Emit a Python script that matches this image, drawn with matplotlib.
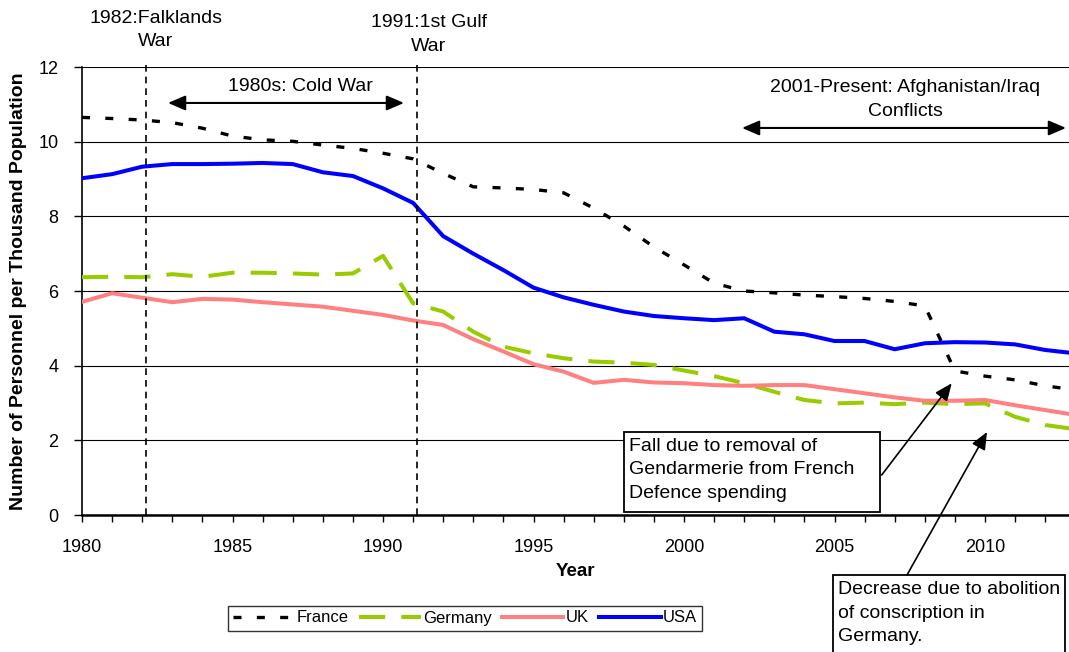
import matplotlib
matplotlib.use("Agg")
import matplotlib.pyplot as plt
from matplotlib.patches import Rectangle
import numpy as np

plt.rcParams['font.family'] = ['Liberation Sans', 'DejaVu Sans']

years = list(range(1980, 2014))
france = [10.65, 10.62, 10.58, 10.51, 10.36, 10.15, 10.05, 10.01, 9.91, 9.82,
          9.69, 9.54, 9.15, 8.79, 8.76, 8.72, 8.63, 8.22, 7.74, 7.18,
          6.70, 6.21, 6.00, 5.95, 5.89, 5.85, 5.80, 5.72, 5.60, 3.86,
          3.72, 3.62, 3.46, 3.35]
germany = [6.37, 6.38, 6.37, 6.45, 6.38, 6.49, 6.49, 6.47, 6.44, 6.47,
           6.94, 5.67, 5.45, 4.91, 4.51, 4.33, 4.20, 4.11, 4.08, 4.02,
           3.87, 3.72, 3.53, 3.30, 3.08, 2.99, 3.01, 2.97, 3.01, 2.97,
           2.99, 2.63, 2.41, 2.30]
uk = [5.71, 5.94, 5.82, 5.70, 5.79, 5.77, 5.70, 5.64, 5.58, 5.47,
      5.36, 5.21, 5.09, 4.71, 4.38, 4.04, 3.84, 3.54, 3.62, 3.55,
      3.53, 3.48, 3.46, 3.48, 3.48, 3.37, 3.26, 3.15, 3.06, 3.06,
      3.08, 2.94, 2.81, 2.68]
usa = [9.02, 9.13, 9.33, 9.40, 9.40, 9.41, 9.43, 9.40, 9.18, 9.08,
       8.75, 8.36, 7.47, 7.00, 6.56, 6.09, 5.83, 5.63, 5.45, 5.33,
       5.27, 5.22, 5.27, 4.91, 4.84, 4.66, 4.66, 4.44, 4.60, 4.63,
       4.62, 4.57, 4.42, 4.33]
series_names = ["France", "Germany", "UK", "USA"]
event_years = [1982.13, 1991.13]
event_labels = ["1982:Falklands\nWar", "1991:1st Gulf\nWar"]

W, H = 1069, 652
fig = plt.figure(figsize=(W / 100, H / 100), dpi=100)
ax = fig.add_axes([82 / W, 1 - 515 / H, (W - 82) / W, (515 - 67) / H])

ax.set_xlim(1980, 1980 + (W - 82) / 30.1)
ax.set_ylim(0, 12)

# gridlines
ax.set_yticks(np.arange(0, 13, 2))
ax.yaxis.grid(True, color='black', lw=0.8)
ax.set_axisbelow(True)

l1, = ax.plot(years, france, color='black', lw=2.4, label=series_names[0], zorder=3)
l1.set_dashes([2.4, 4.6])
l2, = ax.plot(years, germany, color='#99CC00', lw=2.9, label=series_names[1], zorder=3)
l2.set_dashes([6.5, 4.0])
l3, = ax.plot(years, uk, color='#FF8080', lw=2.9, label=series_names[2], zorder=3)
l4, = ax.plot(years, usa, color='#0000FF', lw=2.9, label=series_names[3], zorder=4)

# event lines
for ey in event_years:
    ax.plot([ey, ey], [0, 12.1], color='black', lw=1.2, linestyle=(0, (4, 3)),
            clip_on=False, zorder=5)

# spines
for s in ['top', 'right']:
    ax.spines[s].set_visible(False)
ax.spines['left'].set_linewidth(1.2)
ax.spines['bottom'].set_linewidth(1.8)

ax.set_xticks(years[:33])
ax.set_xticklabels([str(y) if y % 5 == 0 else '' for y in years[:33]])
ax.tick_params(axis='x', direction='out', length=5, width=1, pad=12, labelsize=13)
ax.tick_params(axis='y', direction='out', length=6, width=1, pad=11, labelsize=13)

ax.set_ylabel("Number of Personnel per Thousand Population", fontsize=14,
              fontweight='bold')
ax.yaxis.set_label_coords(-0.0557, 0.5)
ax.set_xlabel("Year", fontsize=13.5, fontweight='bold')
ax.xaxis.set_label_coords(0.5, -0.107)

def px2d(px, py):
    return 1980 + (px - 82) / 30.1, (515 - py) / 37.33

fs = 14
LS = 1.5
# event labels
x, y = px2d(156, 30)
ax.text(x, y, event_labels[0], ha='center', va='center', fontsize=fs,
        linespacing=LS, clip_on=False)
x, y = px2d(429, 34.5)
ax.text(x, y, event_labels[1], ha='center', va='center', fontsize=fs,
        linespacing=LS, clip_on=False)

# Cold war
x, y = px2d(300, 87)
ax.text(x, y, "1980s: Cold War", ha='center', va='center', fontsize=fs)
xa, ya = px2d(168, 103)
xb, _ = px2d(404, 103)
ax.annotate("", xy=(xb, ya), xytext=(xa, ya),
            arrowprops=dict(arrowstyle='<|-|>,head_length=0.7,head_width=0.3',
                            mutation_scale=15, lw=1.5, color='black',
                            shrinkA=0, shrinkB=0))

# Afghanistan
x, y = px2d(905, 99.5)
ax.text(x, y, "2001-Present: Afghanistan/Iraq\nConflicts", ha='center', va='center',
        fontsize=fs, linespacing=LS)
xa, ya = px2d(742, 128)
xb, _ = px2d(1066, 128)
ax.annotate("", xy=(xb, ya), xytext=(xa, ya),
            arrowprops=dict(arrowstyle='<|-|>,head_length=0.7,head_width=0.3',
                            mutation_scale=15, lw=1.5, color='black',
                            shrinkA=0, shrinkB=0), annotation_clip=False)

# Box 1
x0, y1 = px2d(624, 432)
x1, y0 = px2d(880, 512)
ax.add_patch(Rectangle((x0, y0), x1 - x0, y1 - y0, fc='white', ec='black',
                       lw=1.3, zorder=6, clip_on=False))
tx, ty = px2d(629, 470)
ax.text(tx, ty, "Fall due to removal of\nGendarmerie from French\nDefence spending",
        ha='left', va='center', fontsize=fs, linespacing=LS, zorder=7)
xs, ys = px2d(881.7, 475)
xe, ye = px2d(951.7, 383.3)
ax.annotate("", xy=(xe, ye), xytext=(xs, ys),
            arrowprops=dict(arrowstyle='-|>,head_length=0.7,head_width=0.3',
                            mutation_scale=15, lw=1.2, color='black',
                            shrinkA=0, shrinkB=0), zorder=7)

# Box 2
x0, y1 = px2d(833, 575)
x1, y0 = px2d(1065, 660)
ax.add_patch(Rectangle((x0, y0), x1 - x0, y1 - y0, fc='white', ec='black',
                       lw=1.3, zorder=6, clip_on=False))
tx, ty = px2d(838, 613)
ax.text(tx, ty, "Decrease due to abolition\nof conscription in\nGermany.",
        ha='left', va='center', fontsize=fs, linespacing=LS, zorder=7, clip_on=False)
xs, ys = px2d(907, 575)
xe, ye = px2d(987, 432)
ax.annotate("", xy=(xe, ye), xytext=(xs, ys),
            arrowprops=dict(arrowstyle='-|>,head_length=0.7,head_width=0.3',
                            mutation_scale=15, lw=1.2, color='black',
                            shrinkA=0, shrinkB=0), zorder=7, annotation_clip=False)

leg = fig.legend(handles=[l1, l2, l3, l4], loc='center',
                 bbox_to_anchor=(465 / W, 1 - 618 / H), ncol=4, fontsize=12,
                 frameon=True, fancybox=False, edgecolor='black',
                 handlelength=3.7, handletextpad=0.15, columnspacing=0.6,
                 borderpad=0.3)
leg.get_frame().set_linewidth(1.0)

fig.savefig("out.png", dpi=100)
